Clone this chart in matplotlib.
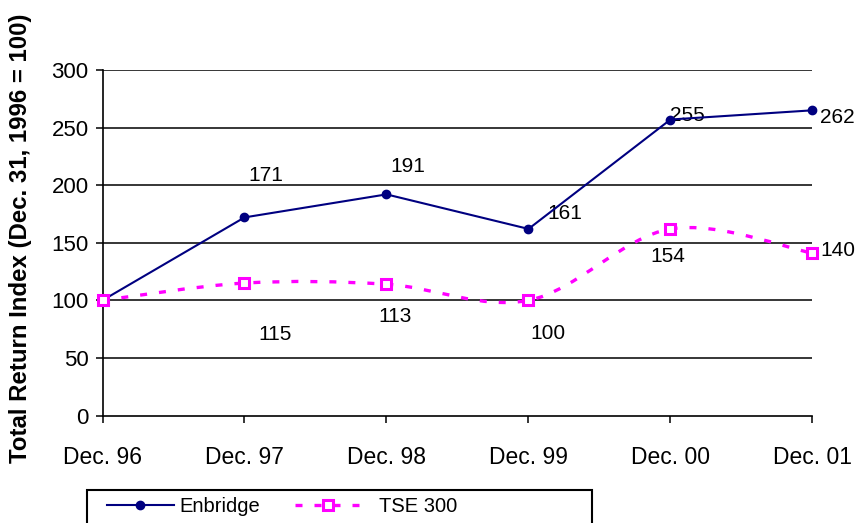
import matplotlib
matplotlib.use("Agg")
import matplotlib.pyplot as plt
from matplotlib.path import Path
from matplotlib.patches import PathPatch, Rectangle
from matplotlib.lines import Line2D

plt.rcParams['font.family'] = ['Liberation Sans', 'DejaVu Sans']

# data
periodos = ["Dec. 96", "Dec. 97", "Dec. 98", "Dec. 99", "Dec. 00", "Dec. 01"]
enbridge = [100, 172, 192, 162, 257, 265]
tse300 = [100, 115, 114, 100, 162, 141]
rotulos_enb = ["", "171", "191", "161", "255", "262"]
rotulos_tse = ["", "115", "113", "100", "154", "140"]

# deslocamento dos rotulos (pontos), tipo Excel
desl_enb = [None, (15, 30), (15, 20), (26, 11), (12, 3), (18, -5)]
desl_tse = [None, (22, -37), (6, -23), (14, -24), (-2, -20), (18, 2)]

AZUL = "#000080"
ROSA = "#ff00ff"


def caminho_suave(xs, ys):
    # curva suavizada (Catmull-Rom -> Bezier) passando pelos pontos
    pts = list(zip(xs, ys))
    n = len(pts)
    verts = [pts[0]]
    codes = [Path.MOVETO]
    for i in range(n - 1):
        p0 = pts[i - 1] if i > 0 else pts[i]
        p1 = pts[i]
        p2 = pts[i + 1]
        p3 = pts[i + 2] if i + 2 < n else pts[i + 1]
        c1 = (p1[0] + (p2[0] - p0[0]) / 6, p1[1] + (p2[1] - p0[1]) / 6)
        c2 = (p2[0] - (p3[0] - p1[0]) / 6, p2[1] - (p3[1] - p1[1]) / 6)
        verts += [c1, c2, p2]
        codes += [Path.CURVE4] * 3
    return Path(verts, codes)


fig = plt.figure(figsize=(8.56, 5.23), dpi=100)
ax = fig.add_axes([102.5 / 856, 1 - 415.5 / 523, 710 / 856, 345.5 / 523])

x = list(range(len(periodos)))

for y in [50, 100, 150, 200, 250, 300]:
    ax.axhline(y, color="black", lw=1.1, zorder=1)

ax.plot(x, enbridge, color=AZUL, lw=1.5, marker="o", markersize=6,
        clip_on=False, zorder=4)

patch = PathPatch(caminho_suave(x, tse300), fill=False, edgecolor=ROSA,
                  lw=2.4, linestyle=(0, (2.1, 3.6)), zorder=3, clip_on=False)
ax.add_patch(patch)
ax.plot(x, tse300, linestyle="none", marker="s", markersize=7, mfc="white",
        mec=ROSA, mew=2.2, clip_on=False, zorder=5)

for i in range(1, len(x)):
    ax.annotate(rotulos_enb[i], (x[i], enbridge[i]), xytext=desl_enb[i],
                textcoords="offset points", ha="center", va="center", fontsize=15)
    ax.annotate(rotulos_tse[i], (x[i], tse300[i]), xytext=desl_tse[i],
                textcoords="offset points", ha="center", va="center", fontsize=15)

ax.set_xlim(0, 5)
ax.set_ylim(0, 300)
ax.set_xticks(x)
ax.set_xticklabels(periodos, fontsize=16.5)
ax.set_yticks([0, 50, 100, 150, 200, 250, 300])
ax.tick_params(axis="y", labelsize=16, length=5, width=1.1, pad=5)
ax.tick_params(axis="x", length=5, width=1.1, pad=17)
for lado in ["top", "right"]:
    ax.spines[lado].set_visible(False)
ax.spines["left"].set_linewidth(1.2)
ax.spines["bottom"].set_linewidth(1.2)

fig.text(21 / 856, 1 - 238.5 / 523, "Total Return Index (Dec. 31, 1996 = 100)",
         rotation=90, ha="center", va="center", fontsize=17.3, fontweight="bold")

# legenda: moldura cortada na borda de baixo, como no original
fig.patches.append(Rectangle((87 / 856, -0.05), (592 - 87) / 856, 0.05 + 33 / 523,
                             transform=fig.transFigure, fill=False,
                             edgecolor="black", lw=1.5))
h_enb = Line2D([], [], color=AZUL, lw=1.5, marker="o", markersize=6)
h_tse = Line2D([], [], color=ROSA, lw=2.4, linestyle=(0, (2.1, 3.6)), marker="s",
               markersize=7, mfc="white", mec=ROSA, mew=2.2)
leg1 = fig.legend([h_enb], ["Enbridge"], loc="center left",
                  bbox_to_anchor=(99 / 856, 1 - 507 / 523), fontsize=14.5,
                  frameon=False, handlelength=3.3, handletextpad=0.3, borderaxespad=0)
fig.legend([h_tse], ["TSE 300"], loc="center left",
           bbox_to_anchor=(287 / 856, 1 - 507 / 523), fontsize=14.5,
           frameon=False, handlelength=3.3, handletextpad=0.85, borderaxespad=0)

fig.savefig("out.png", dpi=100)
